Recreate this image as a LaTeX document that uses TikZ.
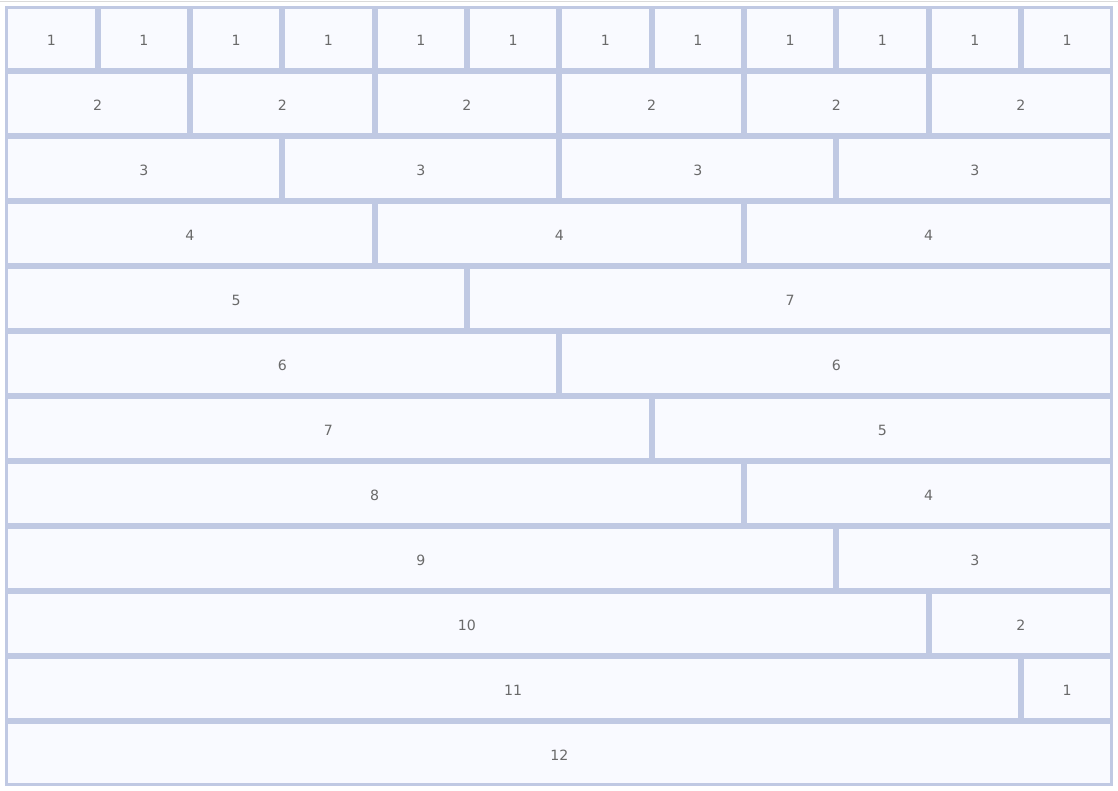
\documentclass[tikz,border=0pt]{standalone}
\usepackage{fontspec}
\setmainfont{DejaVu Sans}
\definecolor{gridbg}{HTML}{C0C9E3}
\definecolor{cellbg}{HTML}{F9FAFF}
\definecolor{txt}{HTML}{6A6A6A}
\definecolor{topline}{HTML}{DADADA}
\begin{document}
\begin{tikzpicture}[x=0.75pt,y=-0.75pt,
  cell/.style={fill=cellbg, inner sep=0pt, anchor=north west, text=txt,
    minimum height=44.25pt, text height=9.6pt, text depth=0pt,
    font=\fontsize{10.6}{12}\selectfont}]
\useasboundingbox (0,0) rectangle (1118,791);
\draw[topline, line width=0.75pt] (0,1.5) -- (1118,1.5);
\fill[gridbg] (5,6) rectangle (1113,786);
\foreach \r/\cells in {
  1/{0/1,1/1,2/1,3/1,4/1,5/1,6/1,7/1,8/1,9/1,10/1,11/1},
  2/{0/2,2/2,4/2,6/2,8/2,10/2},
  3/{0/3,3/3,6/3,9/3},
  4/{0/4,4/4,8/4},
  5/{0/5,5/7},
  6/{0/6,6/6},
  7/{0/7,7/5},
  8/{0/8,8/4},
  9/{0/9,9/3},
  10/{0/10,10/2},
  11/{0/11,11/1},
  12/{0/12}}{
  \foreach \st/\sp [count=\k] in \cells {
    \pgfmathsetmacro\x{8+\st*92.33333}
    \pgfmathsetmacro\y{9+(\r-1)*65}
    \pgfmathsetmacro\w{(\sp*92.33333-6)*0.75}
    \node[cell, minimum width=\w pt] (c\r-\k) at (\x,\y) {\sp};
  }
}
\end{tikzpicture}
\end{document}
